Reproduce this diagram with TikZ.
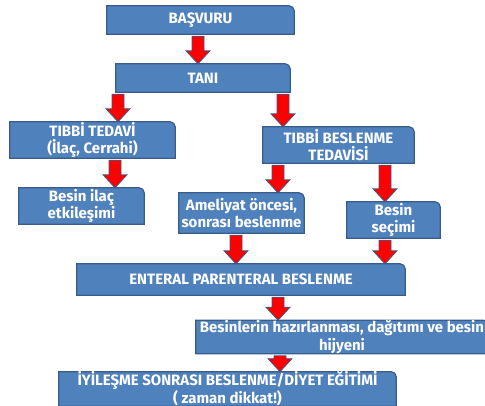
\documentclass[tikz,border=0pt]{standalone}
\usepackage{fontspec}
\setmainfont{Fira Sans}
\usetikzlibrary{calc, backgrounds}
\definecolor{BoxBlue}{RGB}{79,129,189}
\definecolor{BoxEdge}{RGB}{56,93,138}
\definecolor{ArrRed}{RGB}{255,0,0}

% block arrow from node #2 down to node #3 at x = #1
\newcommand{\fatarrow}[3]{%
  \path (#2.south -| #1,0) coordinate (fa-s) (#3.north -| #1,0) coordinate (fa-e);
  \draw[fatarr] ($(fa-s)+(-6,-2)$) -- ($(fa-e)+(-6,13)$) -- ($(fa-e)+(-12,13)$)
    -- (fa-e) -- ($(fa-e)+(12,13)$) -- ($(fa-e)+(6,13)$) -- ($(fa-s)+(6,-2)$) -- cycle;}

\begin{document}
\begin{tikzpicture}[x=1pt, y=1pt,
  box/.style={minimum width=#1, inner sep=0pt, align=center, text=white,
              font=\fontsize{15}{17.5}\selectfont\bfseries},
  frame/.style={draw=BoxEdge, line width=1.2pt, fill=BoxBlue},
  fatarr/.style={draw=BoxEdge, line width=0.8pt, fill=ArrRed, line join=miter}
]
\useasboundingbox (0,0) rectangle (485,405);

% Boxes
\node[box=187pt, minimum height=28pt] (basvuru)  at (200.5,385)   {BAŞVURU};
\node[box=174pt, minimum height=28pt] (tani)     at (203,327)     {TANI};
\node[box=165pt, minimum height=36pt] (tedavi)   at (92.5,265)    {TIBBİ TEDAVİ\\(İlaç, Cerrahi)};
\node[box=151pt, minimum height=36pt] (tbt)      at (338.5,260)   {TIBBİ BESLENME\\TEDAVİSİ};
\node[box=125pt, minimum height=36pt] (ilac)     at (81.5,199)    {Besin ilaç\\etkileşimi};
\node[box=125pt, minimum height=40pt] (ameliyat) at (241.5,192)   {Ameliyat öncesi,\\sonrası beslenme};
\node[box=93pt,  minimum height=36pt] (secim)    at (393.5,185)   {Besin\\seçimi};
\node[box=328pt, minimum height=31pt] (enteral)  at (241,125.5)   {ENTERAL PARENTERAL BESLENME};
\node[box=292pt, minimum height=32pt] (hazir)    at (342,68)      {Besinlerin hazırlanması, dağıtımı ve besin\\hijyeni};
\node[box=337pt, minimum height=28pt, font=\fontsize{15}{14}\selectfont\bfseries]
  (iyilesme) at (227.5,16) {İYİLEŞME SONRASI BESLENME/DİYET EĞİTİMİ\\( zaman dikkat!)};

% Box frames, only the upper right corner rounded
\begin{scope}[on background layer]
\foreach \n in {basvuru,tani,tedavi,tbt,ilac,ameliyat,secim,enteral,hazir,iyilesme}
  \draw[frame] (\n.south west) -- (\n.north west) [rounded corners=5pt] -- (\n.north east)
    [sharp corners] -- (\n.south east) -- cycle;
\end{scope}

% Arrows
\fatarrow{198}{basvuru}{tani}
\fatarrow{118}{tani}{tedavi}
\fatarrow{283}{tani}{tbt}
\fatarrow{115}{tedavi}{ilac}
\fatarrow{278}{tbt}{ameliyat}
\fatarrow{385}{tbt}{secim}
\fatarrow{236}{ameliyat}{enteral}
\fatarrow{385}{secim}{enteral}
\fatarrow{278}{enteral}{hazir}
\fatarrow{280}{hazir}{iyilesme}
\end{tikzpicture}
\end{document}
